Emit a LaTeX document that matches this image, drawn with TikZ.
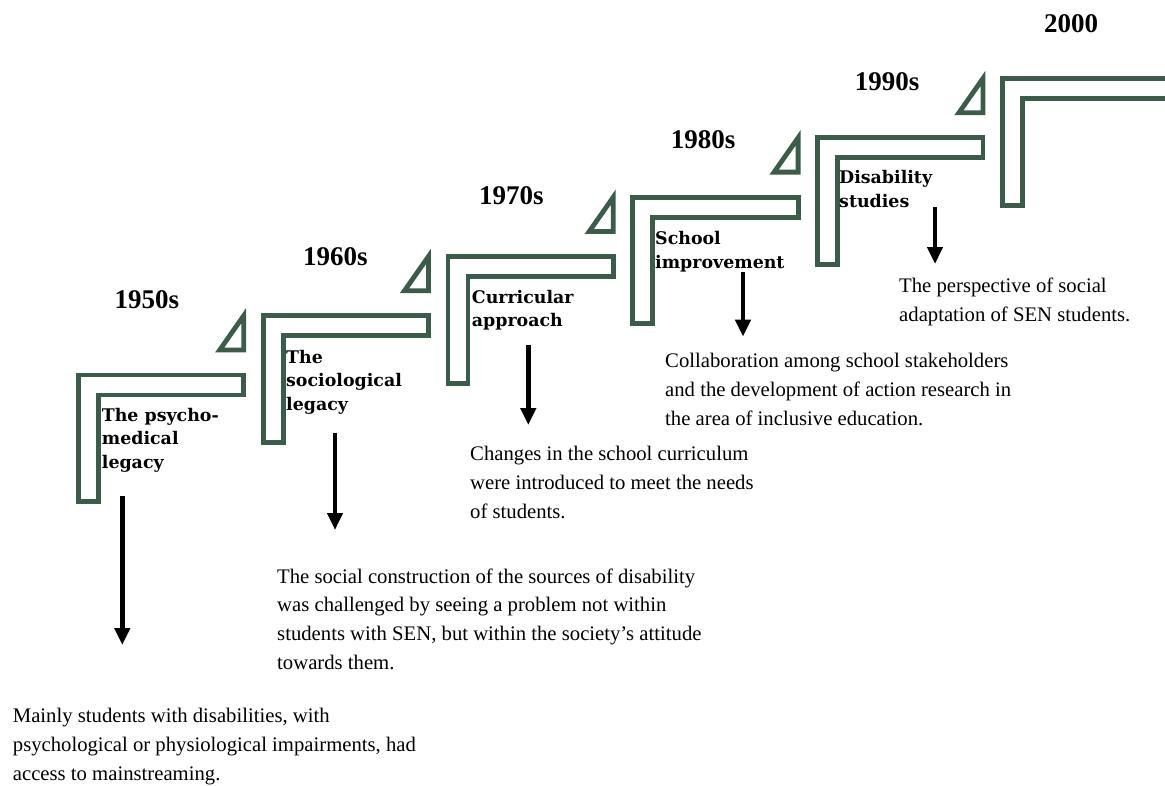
\documentclass[tikz,border=0pt]{standalone}
\usepackage{fontspec}
\setmainfont{Liberation Serif}
\newfontfamily\labfont{DejaVu Serif}
\usetikzlibrary{arrows.meta}
\definecolor{stepgreen}{RGB}{59,92,73}

\begin{document}
\begin{tikzpicture}[x=1pt,y=-1pt,line join=miter,
  stepline/.style={draw=stepgreen,line width=4.8pt},
  year/.style={font=\fontsize{27}{30}\selectfont\bfseries,anchor=base,inner sep=0pt},
  lab/.style={font=\labfont\bfseries\fontsize{17.4}{23.5}\selectfont,align=left,anchor=base west,inner sep=0pt},
  desc/.style={font=\fontsize{20.7}{28.8}\selectfont,align=left,anchor=base west,inner sep=0pt},
  down/.style={-{Triangle[width=15pt,length=17pt]},line width=4.5pt}]
\clip(0,0)rectangle(1165,785);
\draw[stepline](78.3,375)--++(165.4,0)--++(0,20)--++(-145.4,0)--++(0,106.7)--++(-20,0)--cycle;
\draw[stepline](263.1,315.7)--++(165.4,0)--++(0,20)--++(-145.4,0)--++(0,106.7)--++(-20,0)--cycle;
\draw[stepline](447.9,256.4)--++(165.4,0)--++(0,20)--++(-145.4,0)--++(0,106.7)--++(-20,0)--cycle;
\draw[stepline](632.7,197.1)--++(165.4,0)--++(0,20)--++(-145.4,0)--++(0,106.7)--++(-20,0)--cycle;
\draw[stepline](817.5,137.8)--++(165.4,0)--++(0,20)--++(-145.4,0)--++(0,106.7)--++(-20,0)--cycle;
\draw[stepline](1002.3,78.5)--++(200,0)--++(0,20)--++(-180,0)--++(0,106.7)--++(-20,0)--cycle;
\draw[stepline](243.7,315.7)--++(0,34.3)--++(-24,0)--cycle;
\draw[stepline](428.5,256.4)--++(0,34.3)--++(-24,0)--cycle;
\draw[stepline](613.3,197.1)--++(0,34.3)--++(-24,0)--cycle;
\draw[stepline](798.1,137.8)--++(0,34.3)--++(-24,0)--cycle;
\draw[stepline](982.9,78.5)--++(0,34.3)--++(-24,0)--cycle;
\node[year](y1)at(147,308){1950s};
\node[year](y2)at(335.3,265){1960s};
\node[year](y3)at(511.3,204){1970s};
\node[year](y4)at(703,148.3){1980s};
\node[year](y5)at(887,90.7){1990s};
\node[year](y6)at(1071,32.3){2000};
\node[lab](l1)at(101.7,468){The psycho-\\medical\\legacy};
\node[lab](l2)at(286,410){The\\sociological\\legacy};
\node[lab](l3)at(471.7,326.7){Curricular\\approach};
\node[lab](l4)at(655,268.3){School\\improvement};
\node[lab](l5)at(839,207){Disability\\studies};
\node[desc](d1)at(12.7,780.5){Mainly students with disabilities, with\\psychological or physiological impairments, had\\access to mainstreaming.};
\node[desc](d2)at(277,669.5){The social construction of the sources of disability\\was challenged by seeing a problem not within\\students with SEN, but within the society’s attitude\\towards them.};
\node[desc](d3)at(470,518.5){Changes in the school curriculum\\were introduced to meet the needs\\of students.};
\node[desc](d4)at(665,425){Collaboration among school stakeholders\\and the development of action research in\\the area of inclusive education.};
\node[desc](d5)at(899,321.7){The perspective of social\\adaptation of SEN students.};
\coordinate(a1)at(122.3,496);\coordinate(b1)at(122.3,645);
\coordinate(a2)at(335,432.7);\coordinate(b2)at(335,530);
\coordinate(a3)at(528.3,345);\coordinate(b3)at(528.3,425);
\coordinate(a4)at(743,272);\coordinate(b4)at(743,336.7);
\coordinate(a5)at(935,207);\coordinate(b5)at(935,264);
\draw[down](a1)--(b1);
\draw[down](a2)--(b2);
\draw[down](a3)--(b3);
\draw[down](a4)--(b4);
\draw[down](a5)--(b5);
\end{tikzpicture}
\end{document}
